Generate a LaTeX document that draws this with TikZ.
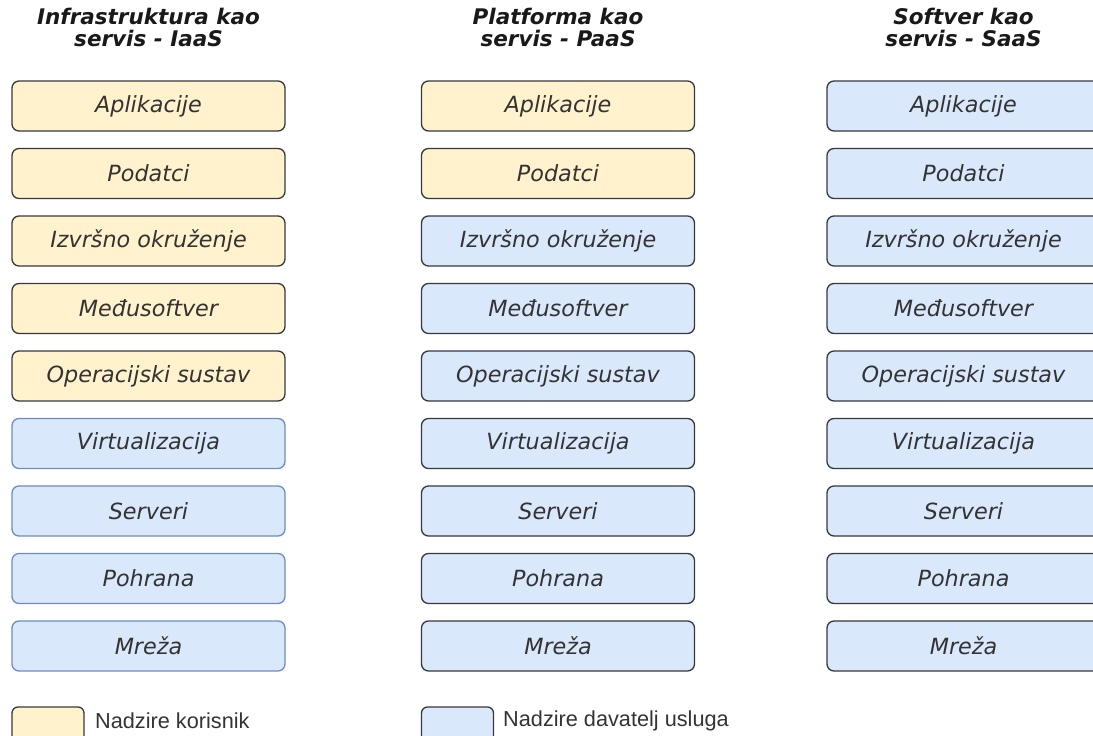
\documentclass[tikz,border=0pt]{standalone}
\usepackage{fontspec}
\setmainfont{DejaVu Sans}
\newfontfamily\legendfont{Liberation Sans}
\definecolor{yfill}{HTML}{FFF2CC}
\definecolor{bfill}{HTML}{DAE8FC}
\definecolor{bdraw}{HTML}{6C8EBF}
\definecolor{ddraw}{HTML}{36393D}
\definecolor{txt}{HTML}{333333}
\begin{document}
\begin{tikzpicture}[x=1pt,y=-1pt,
  box/.style={rounded corners=7pt,line width=1.3pt,minimum width=273pt,minimum height=50pt,inner sep=0pt,
    font=\fontsize{22.3}{24}\selectfont\itshape,text=txt},
  user/.style={box,fill=yfill,draw=ddraw},
  prov/.style={box,fill=bfill,draw=ddraw},
  provb/.style={box,fill=bfill,draw=bdraw},
  ttl/.style={align=center,font=\fontsize{21.5}{22}\selectfont\bfseries\itshape,text=black!90},
  leg/.style={rounded corners=6pt,line width=1.3pt,minimum width=72pt,minimum height=44pt,inner sep=0pt,draw=ddraw},
  legtxt/.style={anchor=west,font=\legendfont\fontsize{21.7}{24}\selectfont,text=txt,inner sep=0pt}]
\useasboundingbox (0,0) rectangle (1093,736);
\clip (0,0) rectangle (1093,736);
\node[ttl] (t1) at (148.5,27) {Infrastruktura kao\\servis - IaaS};
\node[ttl] (t2) at (558,27) {Platforma kao\\servis - PaaS};
\node[ttl] (t3) at (963.5,27) {Softver kao\\servis - SaaS};
% column 1
\node[user] (a1) at (148.5,106) {Aplikacije};
\node[user] (a2) at (148.5,173.5) {Podatci};
\node[user] (a3) at (148.5,241) {Izvršno okruženje};
\node[user] (a4) at (148.5,308.5) {Međusoftver};
\node[user] (a5) at (148.5,376) {Operacijski sustav};
\node[provb] (a6) at (148.5,443.5) {Virtualizacija};
\node[provb] (a7) at (148.5,511) {Serveri};
\node[provb] (a8) at (148.5,578.5) {Pohrana};
\node[provb] (a9) at (148.5,646) {Mreža};
% column 2
\node[user] (b1) at (558,106) {Aplikacije};
\node[user] (b2) at (558,173.5) {Podatci};
\node[prov] (b3) at (558,241) {Izvršno okruženje};
\node[prov] (b4) at (558,308.5) {Međusoftver};
\node[prov] (b5) at (558,376) {Operacijski sustav};
\node[prov] (b6) at (558,443.5) {Virtualizacija};
\node[prov] (b7) at (558,511) {Serveri};
\node[prov] (b8) at (558,578.5) {Pohrana};
\node[prov] (b9) at (558,646) {Mreža};
% column 3
\node[prov] (c1) at (963.5,106) {Aplikacije};
\node[prov] (c2) at (963.5,173.5) {Podatci};
\node[prov] (c3) at (963.5,241) {Izvršno okruženje};
\node[prov] (c4) at (963.5,308.5) {Međusoftver};
\node[prov] (c5) at (963.5,376) {Operacijski sustav};
\node[prov] (c6) at (963.5,443.5) {Virtualizacija};
\node[prov] (c7) at (963.5,511) {Serveri};
\node[prov] (c8) at (963.5,578.5) {Pohrana};
\node[prov] (c9) at (963.5,646) {Mreža};
% legend
\node[leg,fill=yfill] (l1) at (48,729) {};
\node[legtxt] (l1t) at (95,721) {Nadzire korisnik};
\node[leg,fill=bfill] (l2) at (457.5,729) {};
\node[legtxt] (l2t) at (503,721) {Nadzire davatelj usluga};
\end{tikzpicture}
\end{document}
